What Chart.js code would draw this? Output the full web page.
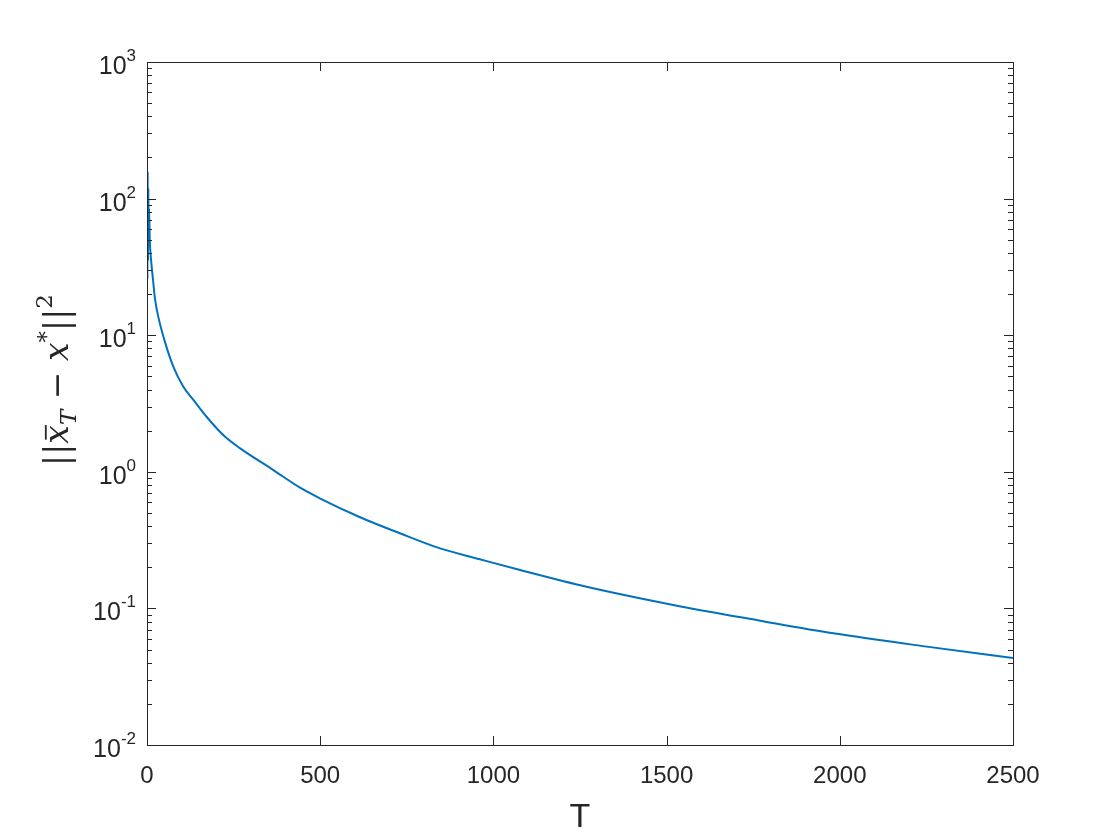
<!DOCTYPE html>
<html>
<head>
<meta charset="utf-8">
<script src="https://cdn.jsdelivr.net/npm/chart.js@4"></script>
<style>
  html, body { margin: 0; padding: 0; background: #fff; }
  #wrap { width: 1120px; height: 840px; }
</style>
</head>
<body>
<div id="wrap"><canvas id="errChart"></canvas></div>
<script>
// iterations T and error ||x_T - x*||^2
const tValues = [1, 2, 3, 4, 5, 6, 8, 12, 17, 23, 33, 52, 76, 105, 134, 172, 220, 268,
  365, 442, 499, 615, 730, 846, 961, 1077, 1269, 1519, 1770, 1981, 2251, 2500];
const errValues = [26, 158, 35, 120, 52, 85, 50, 35, 26, 18.5, 13.5, 8.9, 5.9, 4.2, 3.36, 2.53, 1.86, 1.49,
  1.03, 0.765, 0.64, 0.465, 0.355, 0.275, 0.229, 0.191, 0.144, 0.106, 0.0813, 0.0657, 0.0525, 0.0434];
const xTicks = [0, 500, 1000, 1500, 2000, 2500];
const yExponents = [-2, -1, 0, 1, 2, 3];

const axisColor = '#262626';
const sansFont = '"Liberation Sans", Arial, Helvetica, sans-serif';
const serifFont = '"DejaVu Serif", "Liberation Serif", serif';

const axesPlugin = {
  id: 'matlabAxes',
  afterDraw(chart) {
    const ctx = chart.ctx;
    const { left, right, top, bottom } = chart.chartArea;
    const xs = chart.scales.x, ys = chart.scales.y;
    ctx.save();
    ctx.strokeStyle = axisColor;
    ctx.lineWidth = 1;
    ctx.strokeRect(Math.round(left) + 0.5, Math.round(top) + 0.5,
      Math.round(right - left), Math.round(bottom - top));

    ctx.beginPath();
    // x ticks, inward at bottom and top
    xTicks.forEach(v => {
      const px = Math.round(xs.getPixelForValue(v)) + 0.5;
      ctx.moveTo(px, bottom); ctx.lineTo(px, bottom - 9);
      ctx.moveTo(px, top); ctx.lineTo(px, top + 9);
    });
    // y ticks (log), major and minor, on both sides
    for (let e = -2; e <= 3; e++) {
      for (let m = 1; m <= 9; m++) {
        const v = m * Math.pow(10, e);
        if (v > 1000) break;
        const py = Math.round(ys.getPixelForValue(v)) + 0.5;
        const len = m === 1 ? 9 : 5;
        ctx.moveTo(left, py); ctx.lineTo(left + len, py);
        ctx.moveTo(right, py); ctx.lineTo(right - len, py);
      }
    }
    ctx.stroke();

    // y tick labels 10^n
    ctx.fillStyle = axisColor;
    ctx.textBaseline = 'alphabetic';
    ctx.textAlign = 'right';
    yExponents.forEach(e => {
      const py = ys.getPixelForValue(Math.pow(10, e));
      ctx.font = '17px ' + sansFont;
      const expText = String(e);
      const expW = ctx.measureText(expText).width;
      const xr = left - 11;
      ctx.fillText(expText, xr, py - 1);
      ctx.font = '25px ' + sansFont;
      ctx.fillText('10', xr - expW, py + 12);
    });

    // x axis title
    ctx.textAlign = 'center';
    ctx.textBaseline = 'middle';
    ctx.font = '34px ' + sansFont;
    ctx.fillText('T', (left + right) / 2, 818);

    // y axis title: ||x̄_T − x*||^2
    const S = 33, s = 23;
    const pieces = [
      { t: '||', f: S + 'px ' + serifFont, dy: 0 },
      { t: 'x', f: 'italic ' + S + 'px ' + serifFont, dy: 0, bar: true },
      { t: 'T', f: 'italic ' + s + 'px ' + serifFont, dy: 8 },
      { t: ' \u2212 ', f: S + 'px ' + serifFont, dy: 0 },
      { t: 'x', f: 'italic ' + S + 'px ' + serifFont, dy: 0 },
      { t: '*', f: s + 'px ' + serifFont, dy: -14 },
      { t: '||', f: S + 'px ' + serifFont, dy: 0 },
      { t: '2', f: s + 'px ' + serifFont, dy: -16 }
    ];
    let total = 0;
    pieces.forEach(p => { ctx.font = p.f; p.w = ctx.measureText(p.t).width; total += p.w; });
    ctx.translate(68, 380);
    ctx.rotate(-Math.PI / 2);
    ctx.textAlign = 'left';
    ctx.textBaseline = 'alphabetic';
    let x = -total / 2;
    pieces.forEach(p => {
      ctx.font = p.f;
      ctx.fillText(p.t, x, p.dy);
      if (p.bar) {
        ctx.fillRect(x + 4, -S * 0.7, p.w - 4, 1.8);
      }
      x += p.w;
    });
    ctx.restore();
  }
};

const ctx = document.getElementById('errChart').getContext('2d');
new Chart(ctx, {
  type: 'line',
  data: {
    datasets: [{
      data: tValues.map((t, i) => ({ x: t, y: errValues[i] })),
      borderColor: '#0072BD',
      borderWidth: 2,
      pointRadius: 0,
      cubicInterpolationMode: 'monotone',
      fill: false
    }]
  },
  options: {
    responsive: true,
    maintainAspectRatio: false,
    animation: false,
    layout: { padding: { left: 0, right: 107, top: 62, bottom: 0 } },
    plugins: {
      legend: { display: false },
      tooltip: { enabled: false }
    },
    scales: {
      x: {
        type: 'linear',
        min: 0,
        max: 2500,
        grid: { display: false, drawTicks: false },
        border: { display: false },
        afterFit: scale => { scale.height = 95; },
        afterBuildTicks: scale => { scale.ticks = xTicks.map(v => ({ value: v })); },
        ticks: {
          padding: 17,
          color: axisColor,
          font: { family: sansFont, size: 24 },
          maxRotation: 0,
          callback: v => String(v)
        }
      },
      y: {
        type: 'logarithmic',
        min: 0.01,
        max: 1000,
        grid: { display: false, drawTicks: false },
        border: { display: false },
        afterFit: scale => { scale.width = 147; },
        ticks: { display: false }
      }
    }
  },
  plugins: [axesPlugin]
});
</script>
</body>
</html>
